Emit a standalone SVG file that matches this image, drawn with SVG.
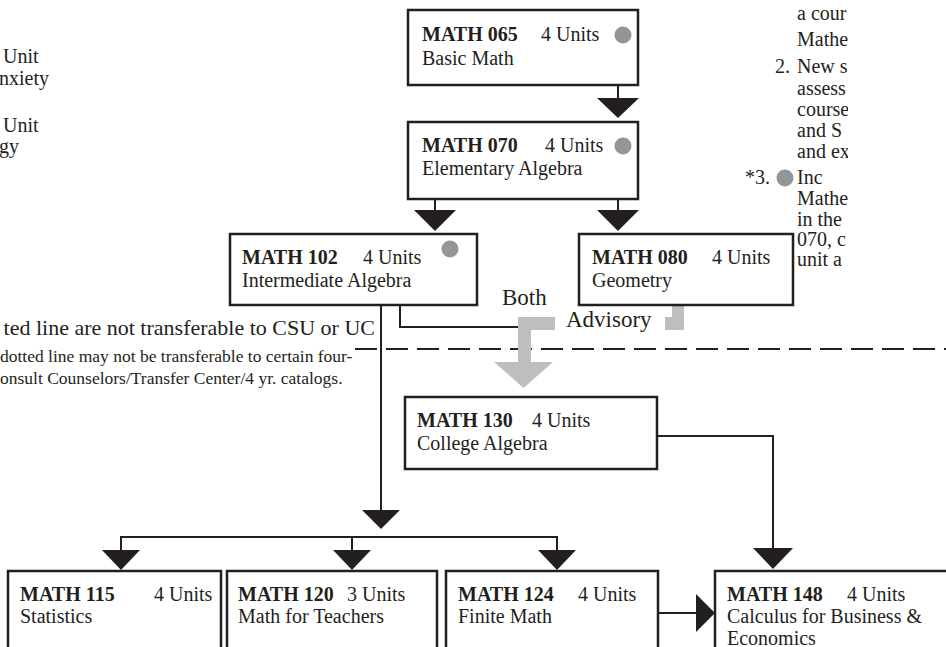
<svg xmlns="http://www.w3.org/2000/svg" width="946" height="647" viewBox="0 0 946 647">
<defs>
<clipPath id="notesClip"><rect x="700" y="0" width="148" height="300"/></clipPath>
</defs>
<style>
text{font-family:"Liberation Serif","Times New Roman",serif;fill:#231f20}
.t{font-size:20px}
.b{font-weight:bold}
.box{fill:#fff;stroke:#231f20;stroke-width:2.5}
.ln{fill:none;stroke:#231f20;stroke-width:2}
.tri{fill:#231f20}
.dot{fill:#939598}
.gray{fill:#bcbec0}
.big{font-size:23px}
.sm{font-size:17.5px}
</style>
<rect width="946" height="647" fill="#fff"/>

<g id="left-notes" class="t">
<text x="3" y="63">Unit</text>
<text x="-1" y="85">nxiety</text>
<text x="3" y="132">Unit</text>
<text x="-1" y="153">gy</text>
</g>

<g id="right-notes" class="t" clip-path="url(#notesClip)">
<text x="797" y="20">a cour</text>
<text x="797" y="46">Mathe</text>
<text x="775" y="73">2.</text>
<text x="797" y="73">New s</text>
<text x="797" y="95">assess</text>
<text x="797" y="116">course</text>
<text x="797" y="137">and S</text>
<text x="797" y="158">and ex</text>
<text x="745" y="184">*3.</text>
<circle class="dot" cx="785" cy="178" r="8.5"/>
<text x="797" y="184">Inc</text>
<text x="797" y="205">Mathe</text>
<text x="797" y="226">in the</text>
<text x="797" y="246">070, c</text>
<text x="797" y="266">unit a</text>
</g>

<g id="transfer-notes">
<text x="375" y="335" font-size="22" text-anchor="end">ted line are not transferable to CSU or UC</text>
<text class="sm" x="0" y="362">dotted line may not be transferable to certain four-</text>
<text class="sm" x="0" y="384">onsult Counselors/Transfer Center/4 yr. catalogs.</text>
</g>

<g id="connectors">
<line x1="355" y1="349" x2="946" y2="349" stroke="#231f20" stroke-width="2" stroke-dasharray="22 9"/>
<polyline class="ln" points="618,85 618,99"/>
<polygon class="tri" points="597,98 639,98 618,118"/>
<polyline class="ln" points="435,199 435,211"/>
<polygon class="tri" points="414,210 456,210 435,231"/>
<polyline class="ln" points="618,199 618,211"/>
<polygon class="tri" points="597,210 639,210 618,231"/>
<polyline class="ln" points="381,305 381,511"/>
<polygon class="tri" points="362,510 400,510 381,529"/>
<polyline class="ln" points="400,305 400,327 519,327"/>
<polyline class="ln" points="121,550 121,537 557,537 557,550"/>
<polyline class="ln" points="352,537 352,550"/>
<polygon class="tri" points="102,550 140,550 121,570"/>
<polygon class="tri" points="333,550 371,550 352,570"/>
<polygon class="tri" points="538,550 576,550 557,570"/>
<polyline class="ln" points="657,436 773,436 773,549"/>
<polygon class="tri" points="753,548 793,548 773,569"/>
<polyline class="ln" points="658,613 697,613"/>
<polygon class="tri" points="696,594 696,632 715,613"/>
<path class="gray" d="M518,317 H555 V330 H531 V362 H553 L523.5,388 L494,362 H518 Z"/>
<path class="gray" d="M672,306 H684 V330 H665 V317 H672 Z"/>
<text class="big" x="502" y="305">Both</text>
<text class="big" x="566" y="327">Advisory</text>
</g>

<g id="math065">
<rect class="box" x="408" y="10" width="230" height="75"/>
<text class="t b" x="422" y="41">MATH 065</text>
<text class="t" x="541" y="41">4 Units</text>
<circle class="dot" cx="623" cy="35" r="8.5"/>
<text class="t" x="422" y="65">Basic Math</text>
</g>

<g id="math070">
<rect class="box" x="408" y="122" width="230" height="77"/>
<text class="t b" x="422" y="152">MATH 070</text>
<text class="t" x="545" y="152">4 Units</text>
<circle class="dot" cx="623" cy="146" r="8.5"/>
<text class="t" x="422" y="175">Elementary Algebra</text>
</g>

<g id="math102">
<rect class="box" x="230" y="234" width="247" height="71"/>
<text class="t b" x="242" y="264">MATH 102</text>
<text class="t" x="363" y="264">4 Units</text>
<circle class="dot" cx="450" cy="249" r="8.5"/>
<text class="t" x="242" y="287">Intermediate Algebra</text>
</g>

<g id="math080">
<rect class="box" x="579" y="234" width="214" height="71"/>
<text class="t b" x="592" y="264">MATH 080</text>
<text class="t" x="712" y="264">4 Units</text>
<text class="t" x="592" y="287">Geometry</text>
</g>

<g id="math130">
<rect class="box" x="405" y="397" width="252" height="72"/>
<text class="t b" x="417" y="427">MATH 130</text>
<text class="t" x="532" y="427">4 Units</text>
<text class="t" x="417" y="450">College Algebra</text>
</g>

<g id="math115">
<rect class="box" x="8" y="571" width="213" height="90"/>
<text class="t b" x="20" y="601">MATH 115</text>
<text class="t" x="154" y="601">4 Units</text>
<text class="t" x="20" y="623">Statistics</text>
</g>

<g id="math120">
<rect class="box" x="227" y="571" width="210" height="90"/>
<text class="t b" x="238" y="601">MATH 120</text>
<text class="t" x="347" y="601">3 Units</text>
<text class="t" x="238" y="623">Math for Teachers</text>
</g>

<g id="math124">
<rect class="box" x="446" y="571" width="212" height="90"/>
<text class="t b" x="458" y="601">MATH 124</text>
<text class="t" x="578" y="601">4 Units</text>
<text class="t" x="458" y="623">Finite Math</text>
</g>

<g id="math148">
<rect class="box" x="715" y="571" width="245" height="90"/>
<text class="t b" x="727" y="601">MATH 148</text>
<text class="t" x="847" y="601">4 Units</text>
<text class="t" x="727" y="623">Calculus for Business &amp;</text>
<text class="t" x="727" y="645">Economics</text>
</g>
</svg>
